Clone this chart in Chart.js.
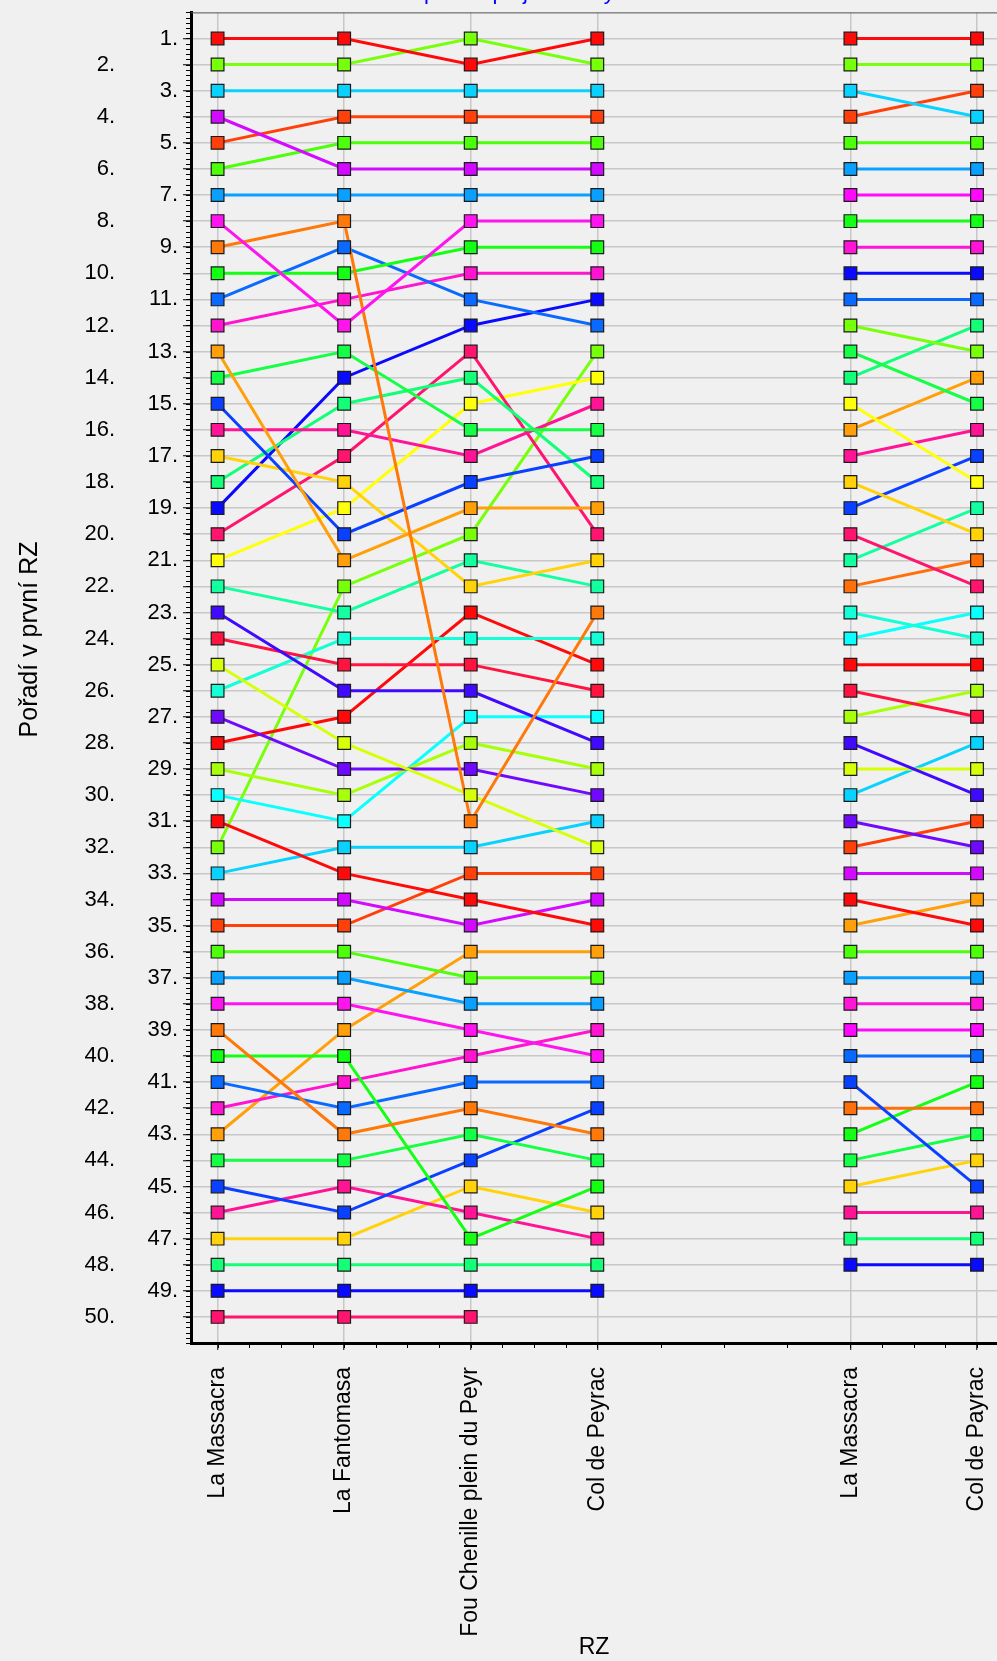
<!DOCTYPE html>
<html>
<head>
<meta charset="utf-8">
<script src="https://cdn.jsdelivr.net/npm/chart.js@4.4.1/dist/chart.umd.min.js"></script>
<style>
  html, body { margin: 0; padding: 0; background: #f0f0f0; overflow: hidden; }
  #wrap { position: relative; width: 997px; height: 1661px; overflow: hidden; }
  #chart { position: absolute; left: 0; top: -20px; }
</style>
</head>
<body>
<div id="wrap"><canvas id="chart" width="997" height="1681"></canvas></div>
<script>
// RZ names on the x axis (slot 4 is the empty gap between the two groups)
const stageNames = ['La Massacra', 'La Fantomasa', 'Fou Chenille plein du Peyr', 'Col de Peyrac', '', 'La Massacra', 'Col de Payrac'];
const stageSlotsA = [0, 1, 2, 3];
const stageSlotsB = [5, 6];

// rank tick labels on the y axis
const rankTicks = [1, 2, 3, 4, 5, 6, 7, 8, 9, 10, 11, 12, 13, 14, 15, 16, 17, 18, 19, 20, 21, 22, 23, 24, 25,
  26, 27, 28, 29, 30, 31, 32, 33, 34, 35, 36, 37, 38, 39, 40, 41, 42, 43, 44, 45, 46, 47, 48, 49, 50];

// group A - position after each RZ (one entry per driver)
const massacraA = [1, 2, 3, 4, 5, 6, 7, 8, 9, 10, 11, 12, 13, 14, 15, 16, 17, 18, 19, 20, 21, 22, 23, 24, 25,
  26, 27, 28, 29, 30, 31, 32, 33, 34, 35, 36, 37, 38, 39, 40, 41, 42, 43, 44, 45, 46, 47, 48, 49, 50];
const fantomasaA = [1, 2, 3, 6, 4, 5, 7, 12, 8, 10, 9, 11, 21, 13, 20, 16, 18, 15, 14, 17, 19, 23, 26, 25, 28,
  24, 29, 27, 30, 31, 33, 22, 32, 34, 35, 36, 37, 38, 43, 40, 42, 41, 39, 44, 46, 45, 47, 48, 49, 50];
const chenilleA = [2, 1, 3, 6, 4, 5, 7, 8, 31, 9, 11, 10, 19, 16, 18, 17, 22, 14, 12, 13, 15, 21, 26, 25, 30,
  24, 29, 23, 28, 27, 34, 20, 32, 35, 33, 37, 38, 39, 42, 47, 41, 40, 36, 43, 44, 46, 45, 48, 49, 50];
const peyracA = [1, 2, 3, 6, 4, 5, 7, 8, 23, 9, 12, 10, 19, 16, 17, 15, 21, 18, 11, 20, 14, 22, 28, 26, 32,
  24, 30, 25, 29, 27, 35, 13, 31, 34, 33, 37, 38, 40, 43, 45, 41, 39, 36, 44, 42, 47, 46, 48, 49, null];

// group B
const massacraB = [1, 2, 3, 4, 5, 6, 7, 8, 9, 10, 11, 12, 13, 14, 15, 16, 17, 18, 19, 20, 21, 22, 23, 24,
  25, 26, 27, 28, 29, 30, 31, 32, 33, 34, 35, 36, 37, 38, 39, 40, 41, 42, 43, 44, 45, 46, 47, 48];
const payracB = [1, 2, 4, 3, 5, 6, 7, 8, 9, 10, 11, 13, 15, 12, 18, 14, 16, 20, 17, 22, 19, 21, 24, 23,
  25, 27, 26, 30, 29, 28, 32, 31, 33, 35, 34, 36, 37, 38, 39, 40, 45, 42, 41, 43, 44, 46, 47, 48];

const coloursA = [
  '#ff0a0a', '#78ff0a', '#0ad2ff', '#d20aff', '#ff400a', '#4cff0a', '#0aa0ff', '#ff14f0', '#ff780a', '#14ff14',
  '#0a6aff', '#ff14d0', '#ffa00a', '#14ff46', '#0a40ff', '#ff1496', '#ffd20a', '#14ff78', '#0a0aff', '#ff146e',
  '#ffff0a', '#14ffa0', '#400aff', '#ff1440', '#d8ff0a', '#14ffd8', '#700aff', '#ff0a0a', '#a8ff0a', '#0affff',
  '#ff0a0a', '#78ff0a', '#0ad2ff', '#d20aff', '#ff400a', '#4cff0a', '#0aa0ff', '#ff14f0', '#ff780a', '#14ff14',
  '#0a6aff', '#ff14d0', '#ffa00a', '#14ff46', '#0a40ff', '#ff1496', '#ffd20a', '#14ff78', '#0a0aff', '#ff146e'
];
const coloursB = [
  '#ff0a0a', '#78ff0a', '#0ad2ff', '#ff400a', '#4cff0a', '#0aa0ff', '#ff0aff', '#14ff14', '#ff14d8', '#0a0aff',
  '#0a6aff', '#78ff0a', '#14ff46', '#14ff78', '#ffff0a', '#ffa00a', '#ff1496', '#ffd20a', '#0a40ff', '#ff146e',
  '#14ffa0', '#ff700a', '#14ffd8', '#0affff', '#ff0a0a', '#ff1440', '#a8ff0a', '#400aff', '#d8ff0a', '#0ad2ff',
  '#700aff', '#ff400a', '#d20aff', '#ff0a0a', '#ffa00a', '#4cff0a', '#0aa0ff', '#ff14d8', '#ff0aff', '#0a6aff',
  '#0a40ff', '#ff700a', '#14ff14', '#14ff46', '#ffd20a', '#ff1496', '#14ff78', '#0a0aff'
];

const fontFamily = 'Liberation Sans, Arial, sans-serif';

const toPoints = (slots, values) => slots
  .map((s, k) => ({ x: s, y: values[k] }))
  .filter(p => p.y !== null);

const datasets = [];
const addDriver = (slots, values, colour) => {
  const data = toPoints(slots, values);
  // line below, markers on top of every line
  datasets.push({ data, borderColor: colour, borderWidth: 3, pointRadius: 0, order: 1 });
  datasets.push({
    data, showLine: false, pointStyle: 'rect', pointRadius: 9,
    pointBackgroundColor: colour, pointBorderColor: '#1a1a1a', pointBorderWidth: 1.2, order: 0
  });
};
massacraA.forEach((_, i) => addDriver(stageSlotsA, [massacraA[i], fantomasaA[i], chenilleA[i], peyracA[i]], coloursA[i]));
massacraB.forEach((_, i) => addDriver(stageSlotsB, [massacraB[i], payracB[i]], coloursB[i]));

const stageSlots = stageSlotsA.concat(stageSlotsB);

// small ticks between the labelled ones + thin frame line at the top
const minorTicks = {
  id: 'minorTicks',
  afterDraw(chart) {
    const { ctx, chartArea } = chart;
    const xs = chart.scales.x, ys = chart.scales.y;
    ctx.save();
    ctx.strokeStyle = '#000';
    ctx.lineWidth = 1;
    ctx.beginPath();
    for (let v = 0; v <= 51.001; v += 0.2) {
      const py = Math.round(ys.getPixelForValue(v)) + 0.5;
      ctx.moveTo(chartArea.left - 5, py);
      ctx.lineTo(chartArea.left, py);
    }
    const xMinor = [];
    for (let v = 0; v <= 3; v += 0.25) xMinor.push(v);
    xMinor.push(3.5, 4, 4.5);
    for (let v = 5; v <= 6; v += 0.25) xMinor.push(v);
    xMinor.forEach(v => {
      const px = Math.round(xs.getPixelForValue(v)) + 0.5;
      ctx.moveTo(px, chartArea.bottom);
      ctx.lineTo(px, chartArea.bottom + 5);
    });
    ctx.stroke();
    ctx.strokeStyle = '#505050';
    ctx.beginPath();
    ctx.moveTo(chartArea.left, chartArea.top + 0.5);
    ctx.lineTo(chartArea.right, chartArea.top + 0.5);
    ctx.stroke();
    ctx.restore();
  }
};

new Chart(document.getElementById('chart'), {
  type: 'line',
  data: { datasets },
  options: {
    responsive: false,
    animation: false,
    events: [],
    devicePixelRatio: 1,
    layout: { autoPadding: false, padding: 0 },
    plugins: {
      legend: { display: false },
      tooltip: { enabled: false },
      title: {
        display: true,
        text: 'Průběžné pořadí po jednotlivých RZ',
        color: '#0000ff',
        font: { family: fontFamily, size: 22, weight: 'normal' },
        padding: { top: 0, bottom: 6 }
      }
    },
    scales: {
      x: {
        type: 'linear',
        min: -0.21,
        max: 6.158,
        afterBuildTicks: (scale) => { scale.ticks = stageSlots.map(v => ({ value: v })); },
        afterFit: (scale) => {
          scale.height = 318;
          scale.paddingLeft = 0;
          scale.paddingRight = 0;
        },
        ticks: {
          autoSkip: false, minRotation: 90, maxRotation: 90, padding: 17,
          color: '#000', font: { family: fontFamily, size: 23 },
          callback: (v) => stageNames[v]
        },
        grid: { color: '#c8c8c8', lineWidth: 1.5, tickLength: 7, tickColor: '#000', tickWidth: 1 },
        border: { color: '#000', width: 3 },
        title: {
          display: true, text: 'RZ', color: '#000', padding: 0,
          font: { family: fontFamily, size: 23 }
        }
      },
      y: {
        type: 'linear',
        position: 'left',
        weight: 0,
        reverse: true,
        min: 0,
        max: 51,
        afterBuildTicks: (scale) => { scale.ticks = rankTicks.map(v => ({ value: v })); },
        afterFit: (scale) => { scale.width = 70; },
        ticks: {
          autoSkip: false, padding: 5, color: '#000', font: { family: fontFamily, size: 22 },
          callback: (v) => (v % 2 === 1 ? v + '.' : '')
        },
        grid: { color: '#c8c8c8', lineWidth: 1.5, tickLength: 8, tickColor: '#000', tickWidth: 1 },
        border: { color: '#000', width: 3 }
      },
      yEven: {
        type: 'linear',
        position: 'left',
        weight: 1,
        reverse: true,
        min: 0,
        max: 51,
        afterBuildTicks: (scale) => { scale.ticks = rankTicks.map(v => ({ value: v })); },
        afterFit: (scale) => { scale.width = 121; },
        ticks: {
          autoSkip: false, padding: 6, color: '#000', font: { family: fontFamily, size: 22 },
          callback: (v) => (v % 2 === 0 ? v + '.' : '')
        },
        grid: { display: false, drawTicks: false },
        border: { display: false },
        title: {
          display: true,
          // leading no-break spaces lift the title a little above the axis centre, as in the source
          text: '\u00a0'.repeat(11) + 'Pořadí v první RZ',
          color: '#000',
          padding: { top: 15, bottom: 0 },
          font: { family: fontFamily, size: 25 }
        }
      }
    }
  },
  plugins: [minorTicks]
});
</script>
</body>
</html>
